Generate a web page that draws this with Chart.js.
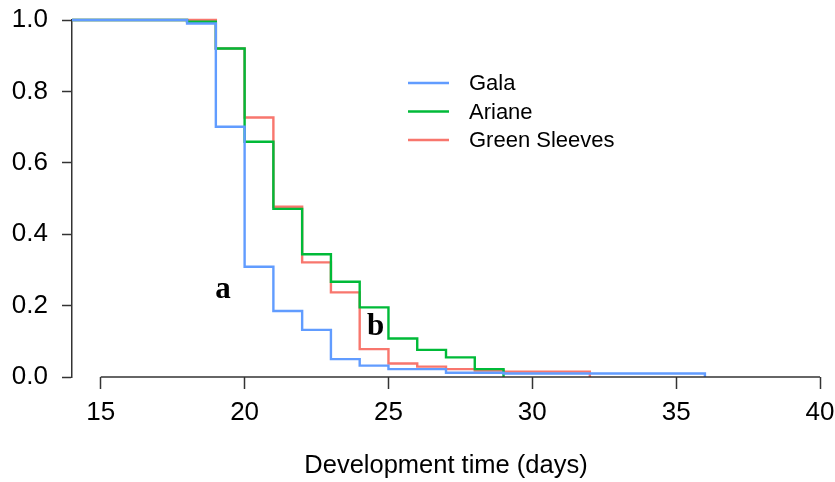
<!DOCTYPE html>
<html>
<head>
<meta charset="utf-8">
<script src="https://cdn.jsdelivr.net/npm/chart.js@4/dist/chart.umd.min.js"></script>
<style>
  html, body { margin: 0; padding: 0; background: #fff; }
  #wrap { width: 835px; height: 482px; }
</style>
</head>
<body>
<div id="wrap"><canvas id="c" width="835" height="482"></canvas></div>
<script>
// ---- data ----
const seriesNames = ["Gala", "Ariane", "Green Sleeves"];
const seriesColors = ["#619CFF", "#00BA38", "#F8766D"];

const galaDays = [14, 18, 19, 20, 21, 22, 23, 24, 25, 27, 29, 36];
const galaSurv = [1.0, 0.99, 0.701, 0.309, 0.185, 0.132, 0.05, 0.032, 0.022, 0.012, 0.010, 0];

const arianeDays = [14, 18, 19, 20, 21, 22, 23, 24, 25, 26, 27, 28, 29];
const arianeSurv = [1.0, 0.995, 0.92, 0.659, 0.471, 0.344, 0.267, 0.195, 0.108, 0.076, 0.055, 0.022, 0];

const sleevesDays = [14, 19, 20, 21, 22, 23, 24, 25, 26, 27, 28, 29, 32];
const sleevesSurv = [1.0, 0.92, 0.727, 0.477, 0.321, 0.237, 0.078, 0.038, 0.029, 0.022, 0.018, 0.015, 0];

const xTickValues = [15, 20, 25, 30, 35, 40];
const yTickValues = [0, 0.2, 0.4, 0.6, 0.8, 1.0];
const xTitle = "Development time (days)";

const groupLetters = ["a", "b"];
const letterX = [19.25, 24.55];
const letterY = [0.245, 0.14];

// ---- build datasets ----
function pts(days, surv) { return days.map((d, i) => ({ x: d, y: surv[i] })); }
const allDays = [galaDays, arianeDays, sleevesDays];
const allSurv = [galaSurv, arianeSurv, sleevesSurv];
const datasets = seriesNames.map((name, i) => ({
  label: name,
  data: pts(allDays[i], allSurv[i]),
  borderColor: seriesColors[i],
  backgroundColor: seriesColors[i],
  borderWidth: 2.4,
  pointRadius: 0,
  stepped: true,
  fill: false,
  clip: false,
  tension: 0
}));

const FONT = "'Liberation Sans', Arial, sans-serif";
const AXIS = "#333";

const overlay = {
  id: "overlay",
  afterDraw(chart) {
    const ctx = chart.ctx;
    const xs = chart.scales.x, ys = chart.scales.y;
    ctx.save();
    // x axis line spanning first to last tick
    ctx.strokeStyle = AXIS;
    ctx.lineWidth = 1.5;
    const y0 = ys.getPixelForValue(0);
    ctx.beginPath();
    ctx.moveTo(xs.getPixelForValue(xTickValues[0]), y0);
    ctx.lineTo(xs.getPixelForValue(xTickValues[xTickValues.length - 1]), y0);
    ctx.stroke();

    // legend
    const lx0 = 408, lx1 = 449, tx = 469;
    const rows = [83, 111.5, 140];
    ctx.font = "22px " + FONT;
    ctx.textBaseline = "middle";
    ctx.textAlign = "left";
    chart.data.datasets.forEach((ds, i) => {
      ctx.strokeStyle = ds.borderColor;
      ctx.lineWidth = 2.4;
      ctx.beginPath();
      ctx.moveTo(lx0, rows[i]);
      ctx.lineTo(lx1, rows[i]);
      ctx.stroke();
      ctx.fillStyle = "#000";
      ctx.fillText(ds.label, tx, rows[i] + 1);
    });

    // group letters
    ctx.font = "bold 31px 'Liberation Serif', 'Times New Roman', serif";
    ctx.textAlign = "center";
    ctx.textBaseline = "middle";
    ctx.fillStyle = "#000";
    groupLetters.forEach((t, i) => {
      ctx.fillText(t, xs.getPixelForValue(letterX[i]), ys.getPixelForValue(letterY[i]));
    });
    ctx.restore();
  }
};

new Chart(document.getElementById("c"), {
  type: "line",
  data: { datasets },
  plugins: [overlay],
  options: {
    responsive: false,
    animation: false,
    devicePixelRatio: 1,
    layout: { padding: { top: 20, right: 15, bottom: 0, left: 0 } },
    plugins: { legend: { display: false }, tooltip: { enabled: false } },
    scales: {
      x: {
        type: "linear",
        min: 14,
        max: 40,
        afterBuildTicks: (s) => { s.ticks = xTickValues.map(v => ({ value: v })); },
        afterFit: (s) => { s.height = 105; s.paddingLeft = 0; s.paddingRight = 0; },
        grid: { drawOnChartArea: false, drawTicks: true, tickLength: 12, tickWidth: 1.5, tickColor: AXIS },
        border: { display: false },
        ticks: { color: "#000", font: { size: 26, family: FONT }, padding: 8, maxRotation: 0, autoSkip: false },
        title: { display: true, text: xTitle, color: "#000", font: { size: 25.5, family: FONT }, padding: { top: 0, bottom: 1 } }
      },
      y: {
        type: "linear",
        min: 0,
        max: 1,
        afterBuildTicks: (s) => { s.ticks = yTickValues.map(v => ({ value: v })); },
        afterFit: (s) => { s.width = 72; s.paddingTop = 0; s.paddingBottom = 0; },
        grid: { drawOnChartArea: false, drawTicks: true, tickLength: 10, tickWidth: 1.5, tickColor: AXIS },
        border: { display: true, color: AXIS, width: 1.5 },
        ticks: { color: "#000", font: { size: 26, family: FONT }, padding: 14, callback: (v) => Number(v).toFixed(1), autoSkip: false }
      }
    }
  }
});
</script>
</body>
</html>
